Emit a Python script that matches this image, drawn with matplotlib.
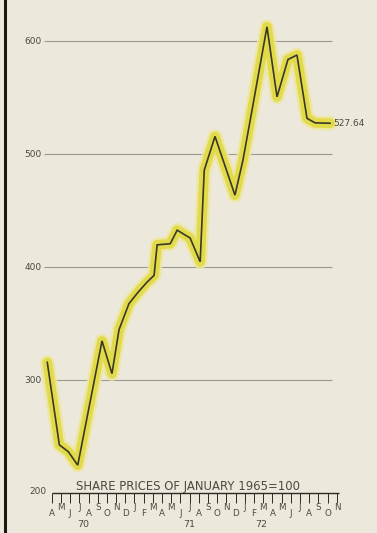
import matplotlib
matplotlib.use("Agg")
import matplotlib.pyplot as plt

# share price index, month offsets counted from April 1970
months = [-0.48, 0.83, 1.80, 2.83, 5.47, 6.55, 7.32, 8.40, 9.38, 10.36, 11.13,
          11.46, 12.88, 13.64, 15.05, 16.14, 16.58, 17.75, 19.92, 20.79, 21.77,
          23.40, 24.49, 25.68, 26.66, 27.75, 28.62, 30.25]
index = [316, 243, 237, 225, 335, 306, 345, 368, 378, 387, 393,
         420, 421, 433, 426, 405, 486, 516, 464, 495, 539,
         613, 551, 584, 588, 532, 528, 527.64]

month_letters = list("AMJJASOND") + list("JFMAMJJASOND") + list("JFMAMJJASON")
years = ["70", "71", "72"]
year_pos = [3.4, 15.0, 22.8]
gridlines = [300, 400, 500, 600]
base = 200
last_label = "527.64"
title = "SHARE PRICES OF JANUARY 1965=100"

paper = "#ECE9DC"
ink = "#3a3826"
label_col = "#4a4a40"

fig = plt.figure(figsize=(3.77, 5.33), dpi=100, facecolor=paper)
ax = fig.add_axes([0, 0, 1, 1], facecolor=paper)
ax.set_xlim(-5.62, 35.36)
ax.set_ylim(165, 636.7)
ax.axis("off")

# left border rule
ax.axvline(-5.08, color="#1a1a14", lw=2.2)

# horizontal guides with their values
for g in gridlines:
    ax.hlines(g, -0.85, 30.5, color="#9a9a90", lw=0.8)
    ax.text(-1.1, g, str(g), ha="right", va="center", fontsize=6.5,
            color=label_col)

# month axis along the bottom
n = len(month_letters)
ax.hlines(base, 0, n - 0.8, color="#2a2a22", lw=1.0)
ax.vlines(range(n), base - 8.5, base, color="#2a2a22", lw=0.7)
for i, m in enumerate(month_letters):
    dy = 17.5 if i % 2 == 0 else 12.5
    ax.text(i, base - dy, m, ha="center", va="center", fontsize=6.3,
            color=label_col)
for y, p in zip(years, year_pos):
    ax.text(p, base - 27.5, y, ha="center", va="center", fontsize=6.8,
            color=label_col)
ax.text(-0.6, base + 1.5, str(base), ha="right", va="center", fontsize=6.5,
        color=label_col)
ax.text(14.8, base + 0.6, title, ha="center", va="bottom", fontsize=8.4,
        color=label_col)

# highlighter band under the index line
ax.plot(months, index, color="#ECE79A", lw=10.5, solid_joinstyle="round",
        solid_capstyle="round", alpha=0.8)
ax.plot(months, index, color="#E2DA44", lw=7.0, solid_joinstyle="round",
        solid_capstyle="round", alpha=0.95)
ax.plot(months, index, color=ink, lw=1.2, solid_joinstyle="miter")

ax.text(months[-1] + 0.35, index[-1], last_label, ha="left", va="center",
        fontsize=6.5, color=label_col)

fig.savefig("out.png", dpi=100, facecolor=paper)
